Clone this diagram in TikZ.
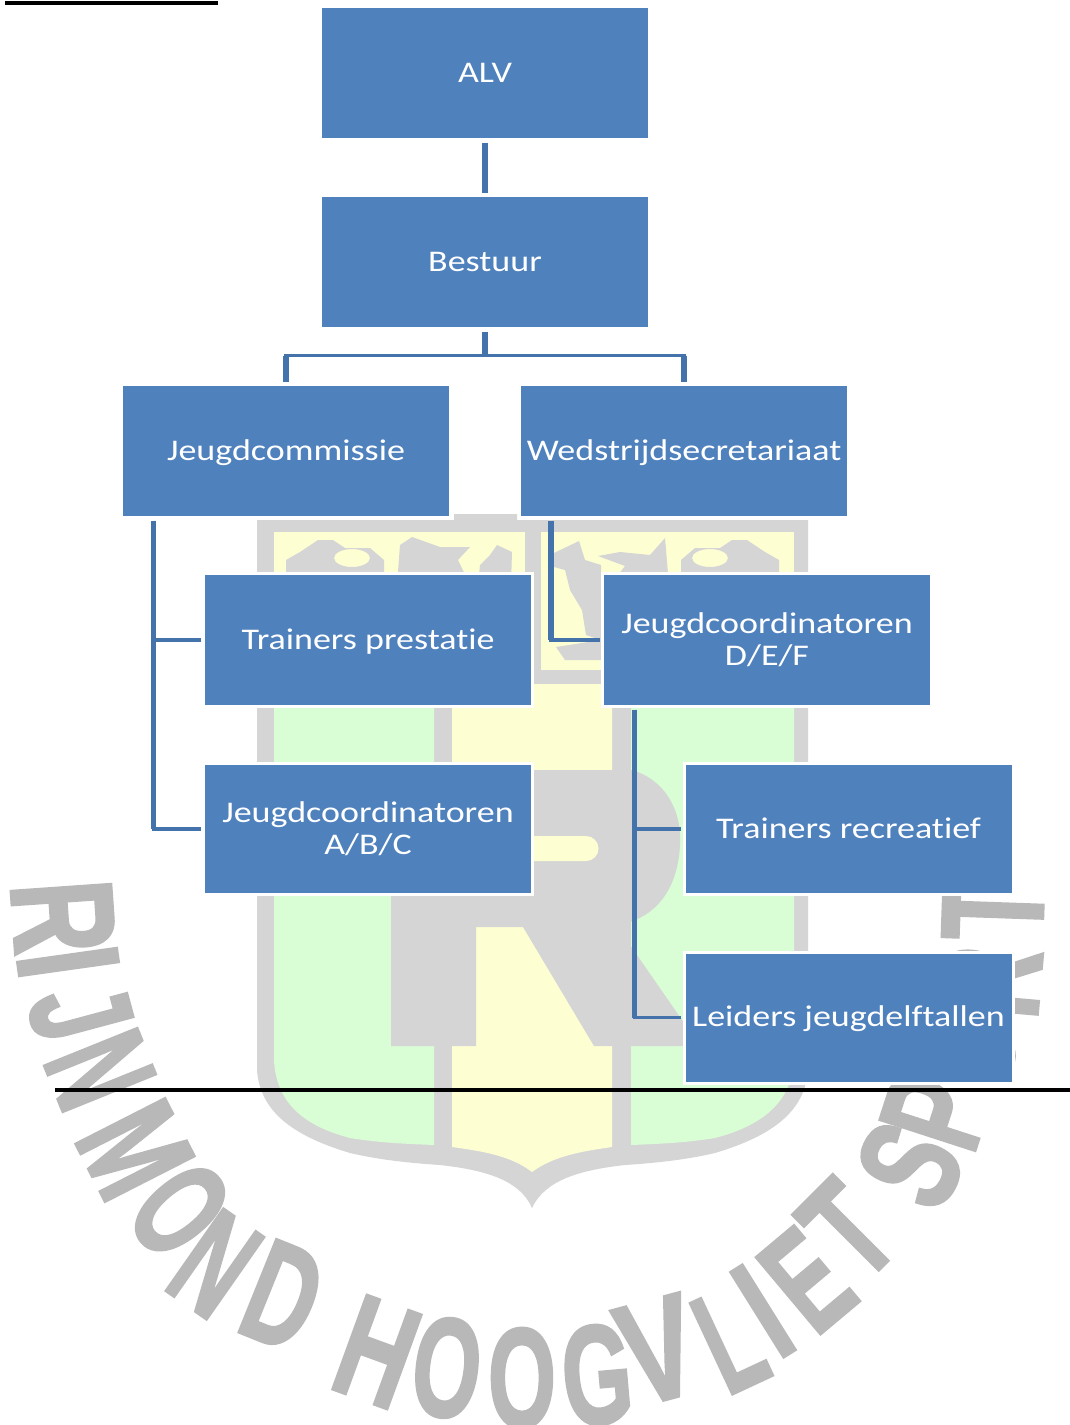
\documentclass[tikz,border=0pt]{standalone}
\usepackage{graphicx}
\usepackage{fontspec}
\setmainfont[FakeStretch=1.2,Ligatures=NoCommon]{Carlito}
\newfontfamily\wmfont[FakeBold=2]{Liberation Sans}
\usetikzlibrary{calc}
\definecolor{boxblue}{HTML}{4F81BD}
\definecolor{connblue}{HTML}{4472AA}
\definecolor{shgray}{HTML}{D5D5D5}
\definecolor{shgreen}{HTML}{D9FDD4}
\definecolor{shyellow}{HTML}{FEFED3}
\definecolor{wmgray}{HTML}{B8B8B8}
\tikzset{
  orgbox/.style={draw=white,line width=3pt,fill=boxblue,text=white,minimum width=329pt,minimum height=133pt,
    inner sep=0pt,outer sep=0pt,align=center,font=\fontsize{30}{32}\selectfont},
  lowbox/.style={orgbox,minimum height=131pt},
  oneline/.style={text height=20pt,text depth=2pt},
  conn/.style={draw=connblue,line width=3.6pt,shorten <=3pt,shorten >=3pt},
  trunk/.style={draw=connblue,line width=5.5pt,shorten <=3pt},
  rule/.style={draw=black,line width=4pt},
  wmletter/.style={inner sep=0pt,outer sep=0pt,text=wmgray,font=\wmfont\bfseries\fontsize{70}{70}\selectfont}
}
\begin{document}
\begin{tikzpicture}[x=1pt,y=-1pt]
\useasboundingbox (0,0) rectangle (1070,1425);
\fill[white] (0,0) rectangle (1070,1425);
% shield
\fill[shgray] (257,520) -- (454,520) -- (454,514) -- (517,514) -- (517,520) -- (808,520) -- (808,1070)
  .. controls (805,1110) and (775,1135) .. (715,1153)
  .. controls (685,1160) and (655,1163) .. (625,1165)
  .. controls (580,1170) and (545,1180) .. (532,1208)
  .. controls (520,1180) and (485,1170) .. (440,1165)
  .. controls (410,1163) and (380,1160) .. (350,1153)
  .. controls (290,1135) and (260,1110) .. (257,1070) -- cycle;
\fill[shyellow] (274,532) rectangle (525,670);
\fill[shyellow] (541,532) rectangle (794,670);
\fill[shgreen] (274,684) -- (434,684) -- (434,1145) .. controls (410,1144) and (380,1143) .. (350,1138)
  .. controls (300,1125) and (276,1100) .. (274,1060) -- cycle;
\fill[shgreen] (794,684) -- (631,684) -- (631,1145) .. controls (655,1144) and (685,1143) .. (715,1138)
  .. controls (765,1125) and (792,1100) .. (794,1060) -- cycle;
\fill[shyellow] (452,684) -- (612,684) -- (612,1147) .. controls (585,1151) and (555,1155) .. (532,1172)
  .. controls (510,1155) and (480,1151) .. (452,1147) -- cycle;
% emblem shapes
\fill[shgray,even odd rule] (286,560) -- (300,552) -- (318,540) -- (333,540) -- (345,548) -- (370,548) -- (384,560) -- (384,585) -- (286,585) -- cycle
  (352,558) ellipse [x radius=18,y radius=9];
\fill[shgray] (397,585) -- (400,545) -- (412,537) -- (440,547) -- (470,547) -- (458,560) -- (470,585) -- cycle;
\fill[shgray] (478,585) -- (480,565) -- (490,555) -- (497,545) -- (512,552) -- (511,585) -- cycle;
\fill[shgray] (554,553) -- (579,541) -- (585,560) -- (601,565) -- (601,640) -- (586,635) -- (582,610) -- (570,590) -- (565,570) -- (554,567) -- cycle;
\fill[shgray] (556,647) -- (601,640) -- (601,660) -- (565,660) -- cycle;
\fill[shgray] (598,556) -- (620,552) -- (650,555) -- (665,538) -- (669,585) -- (610,585) -- (625,566) -- cycle;
\fill[shgray,even odd rule] (779,560) -- (765,552) -- (747,540) -- (732,540) -- (720,548) -- (695,548) -- (681,560) -- (681,585) -- (779,585) -- cycle
  (710,558) ellipse [x radius=18,y radius=9];
% R
\fill[shgray] (391,770) -- (632,770) .. controls (665,780) and (682,810) .. (680,845)
  .. controls (678,885) and (660,912) .. (630,922) -- (630,945) -- (700,1046) -- (594,1046) -- (523,927)
  -- (476,927) -- (476,1046) -- (391,1046) -- cycle;
\fill[shyellow] (525,836) -- (586,836) arc[start angle=-90,end angle=90,radius=12.5] -- (525,861) -- cycle;
% watermark letters
\foreach \c/\x/\y/\r/\w [count=\i] in {
  R/63/917/-86/73, I/68/962/-82/28, J/80/1012/-75/50, N/100/1070/-68/62, M/135/1150/-63/78,
  O/180/1210/-50/66, N/215/1264/-35/62, D/283/1296/-22/68,
  H/377/1352/-20/72, O/447/1368/-7/68, O/522/1378/0/68, G/597/1375/5/70, V/658/1350/15/74,
  L/730/1340/25/54, I/763/1311/32/28, E/807/1280/40/62, T/848/1230/45/60,
  S/910/1165/62/66, P/935/1112/72/62, O/965/1050/78/68, R/990/982/85/70, T/993/910/88/60}
  \node[wmletter,rotate=\r] (wm\i) at (\x,\y) {\resizebox*{\w pt}{100pt}{\c}};
% rules
\draw[rule] (5,3) -- (218,3);
\draw[rule] (55,1090) -- (1070,1090);
% boxes
\node[orgbox,oneline] (alv) at (485,73) {ALV};
\node[orgbox,oneline] (bestuur) at (485,262) {Bestuur};
\node[orgbox,oneline] (jc) at (286,451) {Jeugdcommissie};
\node[orgbox,oneline] (ws) at (684,451) {Wedstrijdsecretariaat};
\node[orgbox,oneline] (tp) at (368,640) {Trainers prestatie};
\node[orgbox] (jd) at (767,640) {Jeugdcoordinatoren\\D/E/F};
\node[lowbox] (ja) at (368,829) {Jeugdcoordinatoren\\A/B/C};
\node[lowbox,oneline] (tr) at (848.5,829) {Trainers recreatief};
\node[lowbox,oneline] (ld) at (848.5,1017.5) {Leiders jeugdelftallen};
% connector junctions
\coordinate (bj) at ($(bestuur.south)+(0,27)$);
\coordinate (jt) at ($(jc.south west)+(32,0)$);
\coordinate (wt) at ($(ws.south west)+(31.5,0)$);
\coordinate (dt) at ($(jd.south west)+(32,0)$);
% connectors
\draw[trunk,shorten >=3pt] (alv) -- (bestuur);
\draw[trunk] (bestuur.south) -- (bj);
\draw[conn,shorten <=0pt] (bj) -| (jc.north);
\draw[conn,shorten <=0pt] (bj) -| (ws.north);
\draw[trunk,shorten <=0pt,shorten >=3pt] (jc.north |- bj) -- (jc.north);
\draw[trunk,shorten <=0pt,shorten >=3pt] (ws.north |- bj) -- (ws.north);
\draw[conn] (jt) |- (tp.west);
\draw[conn] (jt) |- (ja.west);
\draw[trunk] (jt) -- (jt |- ja.west);
\draw[conn] (wt) |- (jd.west);
\draw[trunk] (wt) -- (wt |- jd.west);
\draw[conn] (dt) |- (tr.west);
\draw[conn] (dt) |- (ld.west);
\draw[trunk] (dt) -- (dt |- ld.west);
\end{tikzpicture}
\end{document}
